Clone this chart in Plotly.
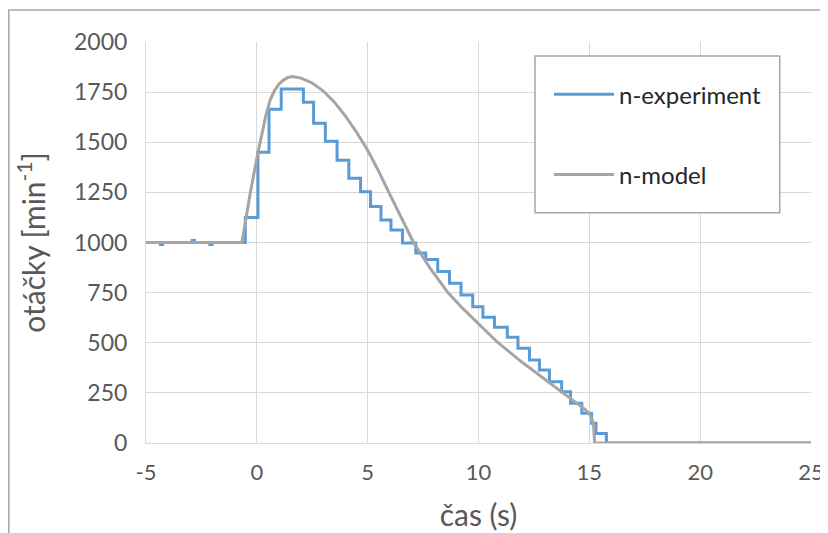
import plotly.graph_objects as go

# Experimental speed (step-like), step start times [s] and values [min^-1]
t_exp = [-5, -4.35, -4.25, -2.92, -2.82, -2.12, -2.02, -0.52, 0.05, 0.55, 1.1,
         2.1, 2.56, 3.09, 3.62, 4.15, 4.68, 5.13, 5.6, 6.05, 6.57, 7.17, 7.62,
         8.16, 8.69, 9.21, 9.74, 10.2, 10.72, 11.3, 11.78, 12.3, 12.75, 13.2,
         13.75, 14.15, 14.66, 15.1, 15.3, 15.77, 25]
n_exp = [1000, 990, 1000, 1010, 1000, 990, 1000, 1125, 1450, 1665, 1765,
         1700, 1595, 1505, 1410, 1320, 1253, 1180, 1112, 1062, 998, 948, 915,
         855, 797, 738, 680, 627, 577, 528, 472, 414, 364, 306,
         256, 198, 148, 98, 48, 0, 0]

# Model speed
t_mod = [-5, -0.68, -0.55, -0.45, -0.29, 0, 0.16, 0.4, 0.6, 0.8, 1.0, 1.2, 1.4,
         1.6, 2.0, 2.5, 3.0, 3.5, 4.0, 4.5, 5.0, 5.5, 5.9, 6.5, 7.07, 7.8, 8.62,
         9.3, 10.0, 10.88, 12.0, 12.85, 13.65, 14.35, 14.8, 15.0, 15.12, 15.19,
         15.22, 15.24, 25]
n_mod = [1000, 1000, 1080, 1150, 1250, 1420, 1500, 1630, 1710, 1758, 1790, 1810, 1823,
         1828, 1820, 1795, 1755, 1700, 1630, 1550, 1460, 1355, 1262, 1125, 1000, 875, 750,
         670, 595, 500, 400, 330, 260, 205, 168, 145, 120, 90,
         45, 0, 0]

x_ticks = [-5, 0, 5, 10, 15, 20, 25]
x_tick_text = ["-5", "0", "5", "10", "15", "20", "25"]
y_ticks = [0, 250, 500, 750, 1000, 1250, 1500, 1750, 2000]

FONT = "Lato"
TXT = "#595959"

fig = go.Figure()
fig.add_trace(go.Scatter(x=t_exp, y=n_exp, mode="lines", name="n-experiment",
                         line=dict(color="#5b9bd5", width=3, shape="hv"),
                         legendgroup="a"))
fig.add_trace(go.Scatter(x=t_mod, y=n_mod, mode="lines", name="n-model",
                         line=dict(color="#a5a5a5", width=3),
                         legendgroup="b"))

# outer chart border and legend box
fig.add_shape(type="rect", xref="paper", yref="paper",
              x0=-0.2063, x1=1.0241, y0=-0.25, y1=1.0798,
              line=dict(color="#a6a6a6", width=1.5), fillcolor="rgba(0,0,0,0)",
              layer="below")
fig.add_shape(type="rect", xref="paper", yref="paper",
              x0=0.585, x1=0.953, y0=0.574, y1=0.965,
              line=dict(color="#a6a6a6", width=1.5), fillcolor="white",
              layer="above")

fig.update_layout(
    width=820, height=525,
    margin=dict(l=138, r=17, t=34, b=90),
    paper_bgcolor="white", plot_bgcolor="white",
    font=dict(family=FONT, color=TXT),
    showlegend=True,
    legend=dict(x=0.606, y=0.925, xanchor="left", yanchor="top",
                bgcolor="rgba(0,0,0,0)", borderwidth=0,
                font=dict(family=FONT, size=24, color="#262626"),
                tracegroupgap=46, itemwidth=60),
    xaxis=dict(range=[-5, 25], tickvals=x_ticks, ticktext=x_tick_text, showgrid=True,
               gridcolor="#d9d9d9", gridwidth=1, zeroline=False, automargin=False,
               showline=True, linecolor="#d9d9d9", linewidth=1,
               tickfont=dict(size=22, color=TXT), ticks="outside", ticklen=10,
               tickcolor="rgba(0,0,0,0)",
               title=dict(text="čas (s)", font=dict(size=30, color=TXT), standoff=20)),
    yaxis=dict(range=[0, 2000], tickvals=y_ticks, showgrid=True,
               gridcolor="#d9d9d9", gridwidth=1, zeroline=False, automargin=False,
               showline=True, linecolor="#d9d9d9", linewidth=1,
               tickfont=dict(size=23, color=TXT), ticks="outside", ticklen=13,
               tickcolor="rgba(0,0,0,0)",
               title=dict(text="otáčky [min<sup>-1</sup>]", font=dict(size=30, color=TXT),
                          standoff=19)),
)

fig.write_html("out.html")
